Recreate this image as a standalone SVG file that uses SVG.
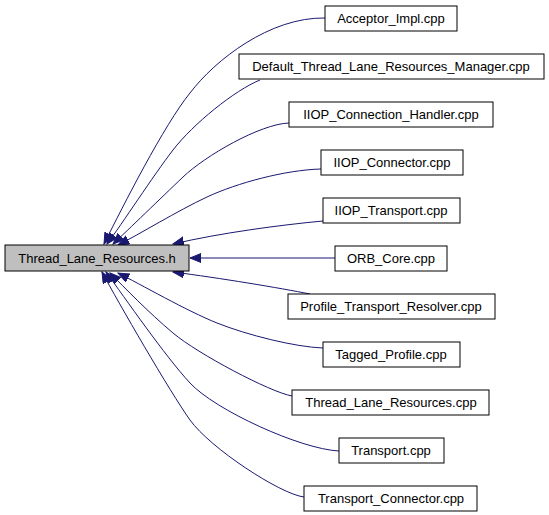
<svg xmlns="http://www.w3.org/2000/svg" width="549" height="515" viewBox="0 0 549 515">
<style>
.n rect{fill:#ffffff;stroke:#000000;stroke-width:1}
.n.main rect{fill:#bfbfbf}
.n text{font-family:"Liberation Sans",Arial,sans-serif;font-size:13px;fill:#000000;text-anchor:middle}
.e path{fill:none;stroke:#191970;stroke-width:1;marker-end:url(#ah)}
</style>
<defs>
<marker id="ah" markerUnits="userSpaceOnUse" markerWidth="12" markerHeight="10" refX="11" refY="4.5" orient="auto">
<path d="M0,0 L11,4.5 L0,9 Z" fill="#191970" stroke="#191970" stroke-width="1"/>
</marker>
</defs>
<g id="edges" class="e">
<path d="M325,18 C270,17 215,60 190,93 C164,125 123,206 104,244"/>
<path d="M260,80 C235,90 193,124 173,150 C153,176 122,224 107,244"/>
<path d="M289,123 C260,124 205,156 183,177 C161,198 128,230 113,244"/>
<path d="M321,169 C285,170 237,183 207,197 C177,211 140,234 118,245"/>
<path d="M323,221 C280,225 220,233 173,244"/>
<path d="M335,258 L190,258"/>
<path d="M310,294 C280,288 220,278 173,272"/>
<path d="M323,348 C295,347 247,335 217,323 C187,311 140,284 118,273"/>
<path d="M292,396 C270,392 198,354 173,333 C148,312 125,288 110,273"/>
<path d="M339,451 C300,449 215,410 190,383 C165,356 125,298 106,272"/>
<path d="M304,497 C280,494 210,448 190,420 C170,392 118,302 102,272"/>
</g>
<g id="node-main" class="n main"><rect x="5" y="245" width="184" height="26"/><text x="97" y="263">Thread_Lane_Resources.h</text></g>
<g id="node-acceptor" class="n"><rect x="325" y="6" width="132" height="25"/><text x="391" y="23">Acceptor_Impl.cpp</text></g>
<g id="node-default" class="n"><rect x="239" y="54" width="305" height="25"/><text x="391" y="71">Default_Thread_Lane_Resources_Manager.cpp</text></g>
<g id="node-iiopch" class="n"><rect x="289" y="102" width="204" height="25"/><text x="391" y="119">IIOP_Connection_Handler.cpp</text></g>
<g id="node-iiopconn" class="n"><rect x="321" y="150" width="142" height="25"/><text x="392" y="167">IIOP_Connector.cpp</text></g>
<g id="node-iioptr" class="n"><rect x="323" y="198" width="137" height="25"/><text x="391" y="215">IIOP_Transport.cpp</text></g>
<g id="node-orb" class="n"><rect x="335" y="246" width="112" height="25"/><text x="391" y="263">ORB_Core.cpp</text></g>
<g id="node-ptr" class="n"><rect x="288" y="294" width="207" height="25"/><text x="391" y="311">Profile_Transport_Resolver.cpp</text></g>
<g id="node-tagged" class="n"><rect x="323" y="342" width="137" height="25"/><text x="391" y="359">Tagged_Profile.cpp</text></g>
<g id="node-tlr" class="n"><rect x="292" y="390" width="197" height="25"/><text x="391" y="407">Thread_Lane_Resources.cpp</text></g>
<g id="node-transport" class="n"><rect x="339" y="438" width="105" height="25"/><text x="391" y="455">Transport.cpp</text></g>
<g id="node-tconn" class="n"><rect x="304" y="486" width="173" height="25"/><text x="391" y="503">Transport_Connector.cpp</text></g>
</svg>
